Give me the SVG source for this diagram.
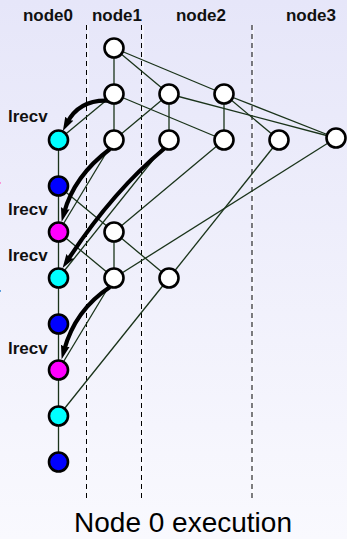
<svg xmlns="http://www.w3.org/2000/svg" width="347" height="539" viewBox="0 0 347 539">
<defs>
<linearGradient id="bg" x1="0" y1="0" x2="0" y2="1">
<stop offset="0" stop-color="#e6e6f9"/>
<stop offset="1" stop-color="#f9f9fe"/>
</linearGradient>
<marker id="ah" markerUnits="userSpaceOnUse" markerWidth="15" markerHeight="10" refX="5" refY="4.5" orient="auto" viewBox="0 0 15 9">
<path d="M0,0 L14,4.5 L0,9 L2,4.5 Z" fill="#000"/>
</marker>
<style>
.lbl{font-family:"Liberation Sans",Arial,sans-serif;font-weight:bold;font-size:17px;fill:#111}
.title{font-family:"Liberation Sans",Arial,sans-serif;font-size:28px;fill:#000}
.e{stroke:#1a331a;stroke-width:1.3;fill:none}
.th{stroke:#000;stroke-width:4.2;fill:none;marker-end:url(#ah)}
.dash{stroke:#000;stroke-width:1;stroke-dasharray:5,4}
.hl{stroke:#fff;stroke-width:1}
.n circle{stroke:#000;stroke-width:2.6}
.w{fill:#fff}
.c{fill:#00ffff}
.b{fill:#0000ff}
.m{fill:#ff00ff}
</style>
</defs>
<rect x="0" y="0" width="347" height="539" fill="url(#bg)"/>
<g id="lanes">
<line class="hl" x1="88" y1="25" x2="88" y2="498"/>
<line class="hl" x1="143" y1="25" x2="143" y2="498"/>
<line class="hl" x1="253" y1="25" x2="253" y2="498"/>
<line class="dash" x1="86.5" y1="25" x2="86.5" y2="498"/>
<line class="dash" x1="141.5" y1="25" x2="141.5" y2="498"/>
<line class="dash" x1="252" y1="25" x2="252" y2="498"/>
</g>
<g id="headers">
<text class="lbl" x="48" y="21" text-anchor="middle">node0</text>
<text class="lbl" x="117" y="21" text-anchor="middle">node1</text>
<text class="lbl" x="201" y="21" text-anchor="middle">node2</text>
<text class="lbl" x="311" y="21" text-anchor="middle">node3</text>
</g>
<g id="side-labels">
<text class="lbl" x="8" y="122">lrecv</text>
<text class="lbl" x="8" y="215">lrecv</text>
<text class="lbl" x="8" y="261">lrecv</text>
<text class="lbl" x="8" y="354">lrecv</text>
<text class="lbl" x="-6" y="191" style="fill:#ff0000">r</text>
<text class="lbl" x="-6" y="299">r</text>
</g>
<g id="connectors">
<line class="e" x1="58.5" y1="140" x2="58.5" y2="462"/>
<line class="e" x1="114" y1="48" x2="114" y2="94"/>
<line class="e" x1="114" y1="48" x2="169" y2="94"/>
<line class="e" x1="114" y1="48" x2="224" y2="94"/>
<line class="e" x1="114" y1="94" x2="114" y2="140"/>
<line class="e" x1="114" y1="94" x2="224" y2="140"/>
<line class="e" x1="114" y1="94" x2="58.5" y2="140"/>
<line class="e" x1="169" y1="94" x2="169" y2="140"/>
<line class="e" x1="169" y1="94" x2="114" y2="140"/>
<line class="e" x1="169" y1="94" x2="336" y2="138"/>
<line class="e" x1="224" y1="94" x2="224" y2="140"/>
<line class="e" x1="224" y1="94" x2="279" y2="140"/>
<line class="e" x1="224" y1="94" x2="336" y2="138"/>
<line class="e" x1="114" y1="140" x2="58.5" y2="232"/>
<line class="e" x1="169" y1="140" x2="58.5" y2="278"/>
<line class="e" x1="224" y1="140" x2="114" y2="232"/>
<line class="e" x1="279" y1="140" x2="169" y2="278"/>
<line class="e" x1="336" y1="138" x2="114" y2="278"/>
<line class="e" x1="58.5" y1="186" x2="114" y2="232"/>
<line class="e" x1="114" y1="232" x2="169" y2="278"/>
<line class="e" x1="58.5" y1="232" x2="114" y2="278"/>
<line class="e" x1="114" y1="232" x2="114" y2="278"/>
<line class="e" x1="114" y1="278" x2="58.5" y2="370"/>
<line class="e" x1="169" y1="278" x2="58.5" y2="416"/>
<path class="th" d="M112,101 Q80,98 67,123"/>
<path class="th" d="M110,149 Q74,176 64,213"/>
<path class="th" d="M165,148 Q112,192 67.5,260.5"/>
<path class="th" d="M110,287 Q75,310 64,350.5"/>
</g>
<g id="n-top" class="n"><circle class="w" cx="114" cy="48" r="9.5"/></g>
<g id="n1-r2" class="n"><circle class="w" cx="114" cy="94" r="9.5"/></g>
<g id="n2-r2a" class="n"><circle class="w" cx="169" cy="94" r="9.5"/></g>
<g id="n2-r2b" class="n"><circle class="w" cx="224" cy="94" r="9.5"/></g>
<g id="n1-r3" class="n"><circle class="w" cx="114" cy="140" r="9.5"/></g>
<g id="n2-r3a" class="n"><circle class="w" cx="169" cy="140" r="9.5"/></g>
<g id="n2-r3b" class="n"><circle class="w" cx="224" cy="140" r="9.5"/></g>
<g id="n3-r3a" class="n"><circle class="w" cx="279" cy="140" r="9.5"/></g>
<g id="n3-r3b" class="n"><circle class="w" cx="336" cy="138" r="9.5"/></g>
<g id="n1-a" class="n"><circle class="w" cx="114" cy="232" r="9.5"/></g>
<g id="n1-b" class="n"><circle class="w" cx="114" cy="278" r="9.5"/></g>
<g id="n2-a" class="n"><circle class="w" cx="169" cy="278" r="9.5"/></g>
<g id="n0-1" class="n"><circle class="c" cx="58.5" cy="140" r="9.5"/></g>
<g id="n0-2" class="n"><circle class="b" cx="58.5" cy="186" r="9.5"/></g>
<g id="n0-3" class="n"><circle class="m" cx="58.5" cy="232" r="9.5"/></g>
<g id="n0-4" class="n"><circle class="c" cx="58.5" cy="278" r="9.5"/></g>
<g id="n0-5" class="n"><circle class="b" cx="58.5" cy="324" r="9.5"/></g>
<g id="n0-6" class="n"><circle class="m" cx="58.5" cy="370" r="9.5"/></g>
<g id="n0-7" class="n"><circle class="c" cx="58.5" cy="416" r="9.5"/></g>
<g id="n0-8" class="n"><circle class="b" cx="58.5" cy="462" r="9.5"/></g>
<text class="title" x="183" y="532" text-anchor="middle">Node 0 execution</text>
</svg>
